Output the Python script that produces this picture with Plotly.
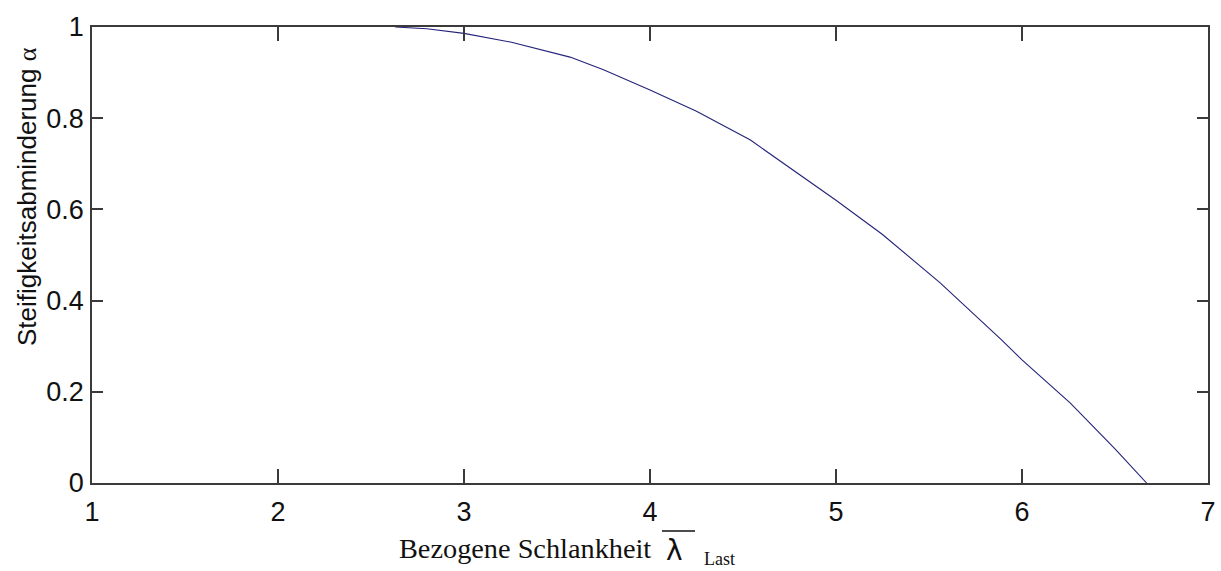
import plotly.graph_objects as go

# Data
lam = [2.63, 2.8, 3.0, 3.25, 3.57, 3.75, 4.0, 4.25, 4.54, 4.85, 5.0, 5.25, 5.56, 5.89, 6.0, 6.26, 6.5, 6.67]
alpha = [1.0, 0.996, 0.986, 0.967, 0.934, 0.906, 0.862, 0.815, 0.752, 0.664, 0.62, 0.545, 0.439, 0.314, 0.27, 0.175, 0.075, 0.0]
x_ticks = [1, 2, 3, 4, 5, 6, 7]
y_ticks = [0, 0.2, 0.4, 0.6, 0.8, 1]
y_tick_text = ["0", "0.2", "0.4", "0.6", "0.8", "1"]

W, H = 1221, 571
L, R, T, B = 92, 13, 27, 88
pw, ph = W - L - R, H - T - B

def px(xp):
    return (xp - L) / pw

def py(yp):
    return (H - B - yp) / ph

fig = go.Figure()
fig.add_trace(go.Scatter(x=lam, y=alpha, mode="lines",
                         line=dict(color="#23237a", width=1.1),
                         showlegend=False, hoverinfo="skip"))

axis_common = dict(showline=True, linecolor="#3a3a3a", linewidth=1.5, mirror="ticks",
                   ticks="inside", tickcolor="#3a3a3a", tickwidth=1.5,
                   showgrid=False, zeroline=False,
                   tickfont=dict(family="Liberation Sans, Arial, sans-serif", size=27, color="#111"))

fig.update_xaxes(range=[1, 7], tickvals=x_ticks, ticktext=[str(v) for v in x_ticks],
                 ticklen=14, ticklabelstandoff=4, **axis_common)
fig.update_yaxes(range=[0, 1], tickvals=y_ticks, ticktext=y_tick_text,
                 ticklen=11, ticklabelstandoff=1, **axis_common)

annotations = [
    dict(text="Steifigkeitsabminderung <span style='font-family:Liberation Serif, Times New Roman, serif'>α</span>",
         x=px(27), y=py(197), xref="paper", yref="paper", textangle=-90,
         xanchor="center", yanchor="middle", showarrow=False,
         font=dict(family="Liberation Sans, Arial, sans-serif", size=26, color="#111")),
    dict(text="Bezogene Schlankheit", x=px(397), y=py(548), xref="paper", yref="paper",
         xanchor="left", yanchor="middle", showarrow=False,
         font=dict(family="Liberation Serif, Times New Roman, serif", size=28.3, color="#111")),
    dict(text="λ", x=px(664), y=py(550), xref="paper", yref="paper",
         xanchor="left", yanchor="middle", showarrow=False,
         font=dict(family="DejaVu Sans, sans-serif", size=28, color="#111")),
    dict(text="Last", x=px(702), y=py(559), xref="paper", yref="paper",
         xanchor="left", yanchor="middle", showarrow=False,
         font=dict(family="Liberation Serif, Times New Roman, serif", size=18, color="#111")),
]

fig.add_shape(type="line", xref="paper", yref="paper",
              x0=px(662), x1=px(695), y0=py(531), y1=py(531),
              line=dict(color="#111", width=1.5))

fig.update_layout(width=W, height=H, margin=dict(l=L, r=R, t=T, b=B, autoexpand=False),
                  paper_bgcolor="white", plot_bgcolor="white", annotations=annotations)

fig.write_html("out.html", config={"displayModeBar": False})
